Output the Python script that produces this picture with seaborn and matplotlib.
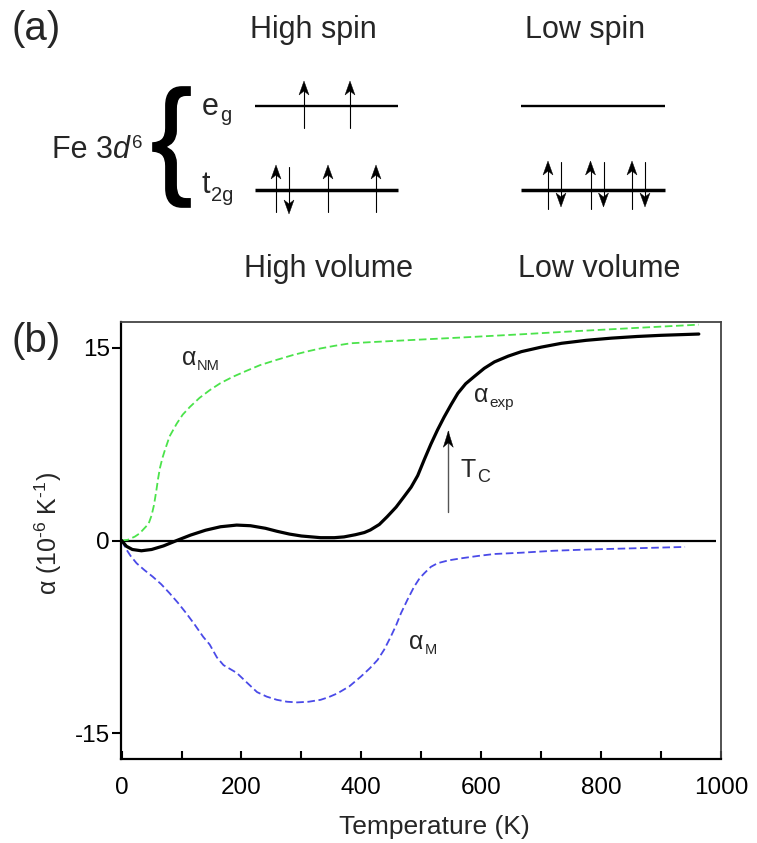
import matplotlib
matplotlib.use("Agg")
import matplotlib.pyplot as plt
import matplotlib.transforms as mtransforms
from matplotlib.patches import Polygon, PathPatch
from matplotlib.textpath import TextPath
from matplotlib.font_manager import FontProperties
import pandas as pd
import seaborn as sns

# ---------------------------------------------------------------- data
# thermal expansion coefficient (1e-6 / K) versus temperature (K)
T_nm = [0, 10, 22, 30, 38, 45, 50, 54, 58, 61, 64, 68, 72, 80, 92, 102, 114,
        130, 147, 165, 186, 208, 231, 258, 287, 310, 332, 355, 382, 420, 482,
        567, 667, 760, 860, 963]
alpha_nm = [0.0, 0.05, 0.3, 0.55, 0.95, 1.3, 1.95, 2.75, 3.9, 4.85, 5.65,
            6.4, 7.0, 8.1, 9.1, 9.8, 10.4, 11.1, 11.7, 12.25, 12.75, 13.2,
            13.65, 14.05, 14.45, 14.72, 14.95, 15.15, 15.35, 15.45, 15.6, 15.8,
            16.05, 16.3, 16.55, 16.8]

T_exp = [0, 8, 18, 33, 50, 70, 92, 115, 140, 165, 192, 215, 240, 259, 280,
         300, 332, 355, 371, 390, 405, 415, 430, 443, 458, 471, 483, 494, 505,
         516, 527, 538, 550, 561, 574, 588, 605, 622, 645, 667, 700, 734, 775,
         817, 860, 900, 963]
alpha_exp = [0.0, -0.45, -0.7, -0.8, -0.7, -0.42, 0.0, 0.42, 0.8, 1.07, 1.2,
             1.15, 0.95, 0.72, 0.5, 0.35, 0.22, 0.22, 0.28, 0.45, 0.62, 0.82,
             1.25, 1.85, 2.6, 3.4, 4.15, 5.05, 6.3, 7.5, 8.6, 9.6, 10.6,
             11.46, 12.2, 12.75, 13.4, 13.9, 14.35, 14.7, 15.05, 15.35, 15.58,
             15.75, 15.88, 15.97, 16.07]

T_m = [0, 8, 15, 25, 38, 52, 66, 80, 94, 108, 122, 136, 147, 159, 170, 192,
       210, 226, 242, 259, 276, 293, 312, 332, 345, 360, 380, 399, 414, 427,
       438, 449, 458, 466, 477, 488, 497, 505, 516, 527, 545, 566, 595, 622,
       667, 720, 778, 860, 940]
alpha_m = [0.0, -0.7, -1.2, -1.77, -2.3, -2.82, -3.4, -4.1, -4.85, -5.67,
           -6.55, -7.49, -8.1, -9.1, -9.7, -10.3, -11.1, -11.8, -12.15, -12.4,
           -12.55, -12.6, -12.55, -12.4, -12.2, -11.9, -11.35, -10.6, -9.95,
           -9.3, -8.5, -7.49, -6.6, -5.67, -4.6, -3.6, -2.95, -2.55, -2.05,
           -1.77, -1.55, -1.39, -1.2, -1.05, -0.95, -0.8, -0.7, -0.6, -0.5]

T_curie = 545
tc_arrow_span = [2.2, 8.5]
zero_line_end = 992

x_ticks = [0, 200, 400, 600, 800, 1000]
x_minor_ticks = [100, 300, 500, 700, 900]
y_ticks = [-15, 0, 15]

# d-electron occupancy (electrons per orbital) for the two spin states
spin_states = ["High spin", "Low spin"]
volume_labels = ["High volume", "Low volume"]
eg_occupancy = {"High spin": [1, 1], "Low spin": [0, 0]}
t2g_occupancy = {"High spin": [2, 1, 1], "Low spin": [2, 2, 2]}

# ---------------------------------------------------------------- style
sns.set_theme(style="white")
plt.rcParams["font.family"] = ["Liberation Sans", "DejaVu Sans"]
plt.rcParams["mathtext.fontset"] = "custom"
plt.rcParams["mathtext.rm"] = "Liberation Sans"
plt.rcParams["mathtext.it"] = "Liberation Sans:italic"
plt.rcParams["mathtext.bf"] = "Liberation Sans:bold"
plt.rcParams["mathtext.sf"] = "Liberation Sans"
plt.rcParams["axes.unicode_minus"] = False

W, H = 757, 843
fig = plt.figure(figsize=(W / 100, H / 100), dpi=100)


def stealth_head(ax, x, y, direction=1, length=14, width=10, color="black"):
    """Filled arrow head with a notched back, tip at data point (x, y)."""
    d = direction
    verts = [(0, 0), (-width / 2, -d * length), (0, -d * length * 0.72),
             (width / 2, -d * length)]
    tr = mtransforms.ScaledTranslation(x, y, ax.transData)
    ax.add_patch(Polygon(verts, closed=True, facecolor=color, edgecolor=color,
                         lw=0.3, transform=tr, clip_on=False, zorder=5))


def with_sub(ax, x, y, main, sub, size, sub_size, dy=0.0, coords=None,
             **kw):
    t = ax.text(x, y, main, fontsize=size, ha="left", va="baseline",
                transform=coords or ax.transData, **kw)
    ax.annotate(sub, xy=(1, 0), xycoords=t, xytext=(0.6, dy),
                textcoords="offset points", fontsize=sub_size, ha="left",
                va="baseline")
    return t


# ---------------------------------------------------------------- panel (a)
ax_a = fig.add_axes([0, 1 - 300 / H, 1, 300 / H])
ax_a.set_xlim(0, W)
ax_a.set_ylim(300, 0)
ax_a.axis("off")

level_y = {"eg": 106, "t2g": 190}
level_lw = {"eg": 1.7, "t2g": 2.5}
level_x = {"High spin": (255, 398), "Low spin": (521, 665)}
orbital_x = {("High spin", "eg"): [304, 350],
             ("High spin", "t2g"): [282.5, 328, 376],
             ("Low spin", "eg"): [570, 616],
             ("Low spin", "t2g"): [554.5, 597, 638.5]}
arrow_span = {"High spin": {"up": (22, -25), "down": (-23, 24)},
              "Low spin": {"up": (19, -29), "down": (-28, 17)}}
occupancy = {"eg": eg_occupancy, "t2g": t2g_occupancy}

for state in spin_states:
    x0, x1 = level_x[state]
    for lev in ["eg", "t2g"]:
        yl = level_y[lev]
        ax_a.plot([x0, x1], [yl, yl], color="black", lw=level_lw[lev],
                  solid_capstyle="butt", zorder=2)
        for xc, n in zip(orbital_x[(state, lev)], occupancy[lev][state]):
            if n == 0:
                continue
            xs = [xc] if n == 1 else [xc - 6.5, xc + 6.5]
            for k, xa in enumerate(xs):
                kind = "up" if k == 0 else "down"
                tail, tip = arrow_span[state][kind]
                d = 1 if kind == "up" else -1
                # shaft stops a little short of the tip (y axis points down)
                ax_a.plot([xa, xa], [yl + tail, yl + tip + d * 6],
                          color="black", lw=0.8, zorder=4)
                stealth_head(ax_a, xa, yl + tip, direction=d)

for state, xc in zip(spin_states, [313, 585]):
    ax_a.text(xc, 38, state, ha="center", va="baseline", fontsize=22)
for vol, xc in zip(volume_labels, [328, 599]):
    ax_a.text(xc, 277, vol, ha="center", va="baseline", fontsize=22)

# "Fe 3d6" with italic d and superscript 6
fe = ax_a.text(52, 158, "Fe 3", fontsize=22, ha="left", va="baseline")
d_it = ax_a.annotate("d", xy=(1, 0), xycoords=fe, xytext=(0, 0),
                     textcoords="offset points", fontsize=22, style="italic",
                     ha="left", va="bottom")
ax_a.annotate("6", xy=(1, 1), xycoords=d_it, xytext=(1.2, 0),
              textcoords="offset points", fontsize=13.5, ha="left", va="top")

with_sub(ax_a, 202, 115, "e", "g", 22, 14.5, dy=1.0)
with_sub(ax_a, 202, 193, "t", "2g", 22, 14.5, dy=-0.5)

# curly brace fitted into its box
brace = TextPath((0, 0), "{", size=100,
                 prop=FontProperties(family="Liberation Sans"))
ext = brace.get_extents()
bx0, bx1, by0, by1 = 153, 190, 87, 207
sx = (bx1 - bx0) / ext.width
sy = (by1 - by0) / ext.height
brace_tr = (mtransforms.Affine2D().translate(-ext.x0, -ext.y0)
            .scale(sx, -sy).translate(bx0, by1))
ax_a.add_patch(PathPatch(brace_tr.transform_path(brace), facecolor="black",
                         edgecolor="black", lw=1.2))

fig.text(12 / W, 1 - 40 / H, "(a)", fontsize=29, ha="left", va="baseline")

# ---------------------------------------------------------------- panel (b)
left, right, top, bottom = 121, 721, 321.7, 759.3
ax = fig.add_axes([left / W, 1 - bottom / H, (right - left) / W,
                   (bottom - top) / H])

curves = [
    (T_nm, alpha_nm, "#4be34b", 1.3, (4.2, 2.0)),
    (T_m, alpha_m, "#4a4ae8", 1.3, (4.2, 2.0)),
    (T_exp, alpha_exp, "black", 2.3, None),
]
for T, a, color, lw, dash in curves:
    df = pd.DataFrame({"T": T, "alpha": a})
    sns.lineplot(data=df, x="T", y="alpha", ax=ax, color=color, lw=lw,
                 estimator=None, sort=False, legend=False)
    line = ax.lines[-1]
    line.set_solid_joinstyle("round")
    line.set_dash_joinstyle("round")
    if dash is not None:
        line.set_linestyle((0, dash))

ax.hlines(0, 0, zero_line_end, color="black", lw=1.6, zorder=1)

# Curie temperature marker
ax.plot([T_curie, T_curie], tc_arrow_span, color="#555555", lw=1.0)
stealth_head(ax, T_curie, tc_arrow_span[1], direction=1, length=16, width=10)

with_sub(ax, 100, 13.66, "α", "NM", 18, 10.5)
with_sub(ax, 588, 10.8, "α", "exp", 18, 11)
with_sub(ax, 566, 4.97, "T", "C", 18, 13)
with_sub(ax, 479.6, -8.47, "α", "M", 18, 10.5)

ax.set_xlim(-1, 1000)
ax.set_ylim(-17.03, 17.03)
ax.set_xticks(x_ticks)
ax.set_xticks(x_minor_ticks, minor=True)
ax.set_yticks(y_ticks)
ax.set_xticklabels([str(v) for v in x_ticks])
ax.set_yticklabels([str(v) for v in y_ticks])

ax.tick_params(axis="y", which="both", left=True, right=False,
               direction="out", length=6.5, width=1.5, pad=1.5,
               labelsize=17.5, colors="black")
ax.tick_params(axis="x", which="both", bottom=True, top=False,
               direction="in", length=5.5, width=1.5, pad=12.5,
               labelsize=17.5, colors="black")

for s in ["left", "bottom"]:
    ax.spines[s].set_linewidth(1.6)
    ax.spines[s].set_color("black")
for s in ["top", "right"]:
    ax.spines[s].set_linewidth(1.3)
    ax.spines[s].set_color("#444444")

ax.set_xlabel("Temperature (K)", fontsize=19, va="center")
ax.xaxis.set_label_coords((434 - left) / (right - left),
                          (bottom - 827) / (bottom - top))
ax.set_ylabel(r"α (10$^{\text{-6}}$ K$^{\text{-1}}$)", fontsize=18,
              va="center")
ax.yaxis.set_label_coords((48 - left) / (right - left),
                          (bottom - 533) / (bottom - top))

fig.text(12 / W, 1 - 352 / H, "(b)", fontsize=29, ha="left", va="baseline")

fig.savefig("out.png", dpi=100, facecolor="white")
